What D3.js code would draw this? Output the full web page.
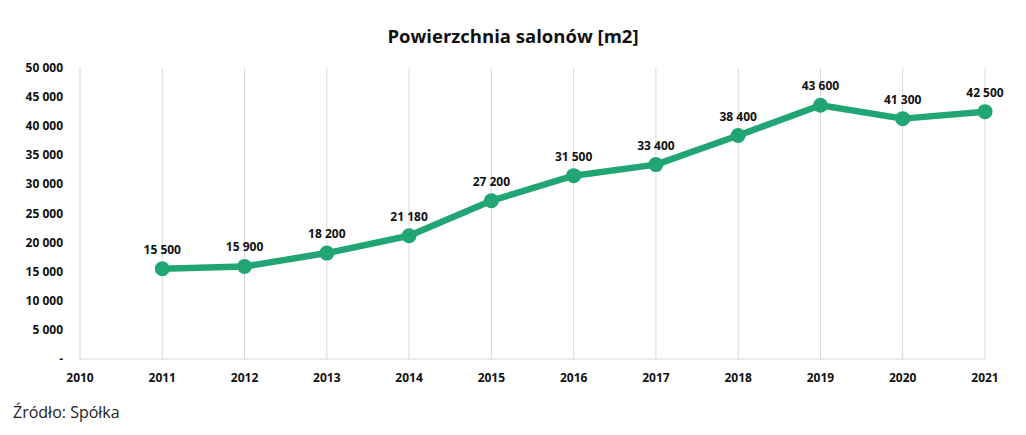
<!DOCTYPE html>
<html>
<head>
<meta charset="utf-8">
<script src="https://cdnjs.cloudflare.com/ajax/libs/d3/7.8.5/d3.min.js"></script>
<style>
  body { margin: 0; background: #fff; }
  svg { font-family: "Open Sans", "Liberation Sans", sans-serif; }
</style>
</head>
<body>
<svg id="chart" width="1026" height="435"></svg>
<script>
// years on the axis and the surface values (m2)
const years = [2010, 2011, 2012, 2013, 2014, 2015, 2016, 2017, 2018, 2019, 2020, 2021];
const pointYears = [2011, 2012, 2013, 2014, 2015, 2016, 2017, 2018, 2019, 2020, 2021];
const values = [15500, 15900, 18200, 21180, 27200, 31500, 33400, 38400, 43600, 41300, 42500];
const yTicks = [0, 5000, 10000, 15000, 20000, 25000, 30000, 35000, 40000, 45000, 50000];

const data = pointYears.map((y, i) => ({ year: y, value: values[i] }));
const green = "#22a574";

const svg = d3.select("#chart");

const x = d3.scaleLinear().domain([2010, 2021]).range([80, 985]);
const y = d3.scaleLinear().domain([0, 50000]).range([359, 68]);

const fmt = v => v === 0 ? "-" : d3.format(",")(v).replace(/,/g, " ");

// title
svg.append("text")
    .attr("x", 513).attr("y", 43)
    .attr("text-anchor", "middle")
    .attr("font-size", 18.5).attr("font-weight", "bold")
    .attr("fill", "#111")
    .text("Powierzchnia salonów [m2]");

// vertical gridlines
svg.append("g")
    .selectAll("line")
    .data(years)
    .enter().append("line")
    .attr("x1", d => x(d)).attr("x2", d => x(d))
    .attr("y1", y(50000)).attr("y2", y(0))
    .attr("stroke", "#d9d9d9").attr("stroke-width", 1);

// x axis line
svg.append("line")
    .attr("x1", x(2010)).attr("x2", x(2021))
    .attr("y1", y(0)).attr("y2", y(0))
    .attr("stroke", "#d9d9d9").attr("stroke-width", 1);

// x labels
svg.append("g")
    .selectAll("text")
    .data(years)
    .enter().append("text")
    .attr("x", d => x(d)).attr("y", 382)
    .attr("text-anchor", "middle")
    .attr("font-size", 12).attr("font-weight", "bold")
    .attr("fill", "#111")
    .text(d => d);

// y labels
svg.append("g")
    .selectAll("text")
    .data(yTicks)
    .enter().append("text")
    .attr("x", 63).attr("y", d => y(d) + 4)
    .attr("text-anchor", "end")
    .attr("font-size", 12).attr("font-weight", "bold")
    .attr("fill", "#111")
    .text(fmt);

// line
const line = d3.line().x(d => x(d.year)).y(d => y(d.value));
svg.append("path")
    .datum(data)
    .attr("d", line)
    .attr("fill", "none")
    .attr("stroke", green)
    .attr("stroke-width", 6.5)
    .attr("stroke-linejoin", "round");

// markers
svg.append("g")
    .selectAll("circle")
    .data(data)
    .enter().append("circle")
    .attr("cx", d => x(d.year)).attr("cy", d => y(d.value))
    .attr("r", 7.5)
    .attr("fill", green);

// value labels
svg.append("g")
    .selectAll("text")
    .data(data)
    .enter().append("text")
    .attr("x", d => x(d.year)).attr("y", d => y(d.value) - 15)
    .attr("text-anchor", "middle")
    .attr("font-size", 12).attr("font-weight", "bold")
    .attr("fill", "#111")
    .text(d => fmt(d.value));

// source
svg.append("text")
    .attr("x", 13).attr("y", 418)
    .attr("font-size", 16)
    .attr("fill", "#222")
    .text("Źródło: Spółka");
</script>
</body>
</html>
